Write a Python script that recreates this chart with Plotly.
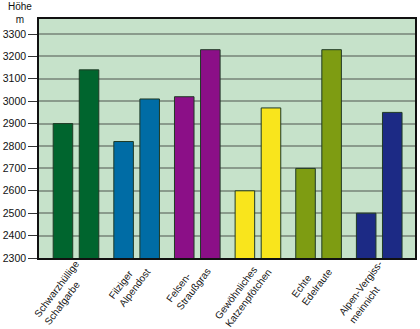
import plotly.graph_objects as go

# Plant species (two-line labels)
species = [
    "Schwarzhüllige<br>Schafgarbe",
    "Filziger<br>Alpendost",
    "Felsen-<br>Straußgras",
    "Gewöhnliches<br>Katzenpfötchen",
    "Echte<br>Edelraute",
    "Alpen-Vergiss-<br>meinnicht",
]
# Lower and upper altitude (m) for each species
hoehe_unten = [2900, 2820, 3020, 2600, 2700, 2500]
hoehe_oben = [3140, 3010, 3230, 2970, 3230, 2950]
farben = ["#00652e", "#006ca5", "#8b0f87", "#f9e51c", "#7e9c12", "#1c2a85"]
y_ticks = [2300, 2400, 2500, 2600, 2700, 2800, 2900, 3000, 3100, 3200, 3300]

x_pos = list(range(len(species)))
outline = dict(color="#1f3a25", width=1)

fig = go.Figure()
fig.add_trace(go.Bar(x=x_pos, y=hoehe_unten, base=0,
                     marker=dict(color=farben, line=outline)))
fig.add_trace(go.Bar(x=x_pos, y=hoehe_oben, base=0,
                     marker=dict(color=farben, line=outline)))

font = dict(family="Liberation Sans, Arial, sans-serif", size=10, color="#111")

# Rotated, left-aligned category labels below the axis
label_annotations = [
    dict(text=name, x=i, y=0, xref="x", yref="paper",
         xanchor="right", yanchor="top", align="left",
         textangle=-53, xshift=17, yshift=1, showarrow=False,
         borderpad=0, font=dict(size=10, color="#111"))
    for i, name in zip(x_pos, species)
]

fig.update_layout(
    width=420, height=329,
    margin=dict(l=39, r=5, t=19, b=71),
    paper_bgcolor="white",
    plot_bgcolor="#c6e2ca",
    barmode="group",
    bargap=0.14,
    bargroupgap=0.25,
    showlegend=False,
    font=font,
    xaxis=dict(
        range=[-0.61, 5.59],
        showticklabels=False,
        ticks="",
        showgrid=False,
        showline=True, linecolor="#111", linewidth=1.5, mirror=True,
        automargin=False,
    ),
    yaxis=dict(
        range=[2300, 3367],
        tickmode="array",
        tickvals=y_ticks,
        ticks="outside", ticklen=9, tickcolor="#333", tickwidth=1,
        showgrid=True, gridcolor="#8a9b8c", gridwidth=1.5,
        showline=True, linecolor="#111", linewidth=1.5, mirror=True,
        tickfont=dict(size=10.5),
        zeroline=False,
        automargin=False,
    ),
    annotations=[
        dict(text="Höhe<br>m", x=-0.05, y=1.085,
             xref="paper", yref="paper", showarrow=False,
             xanchor="center", yanchor="top", font=dict(size=10)),
    ] + label_annotations,
)

fig.write_html("out.html")
